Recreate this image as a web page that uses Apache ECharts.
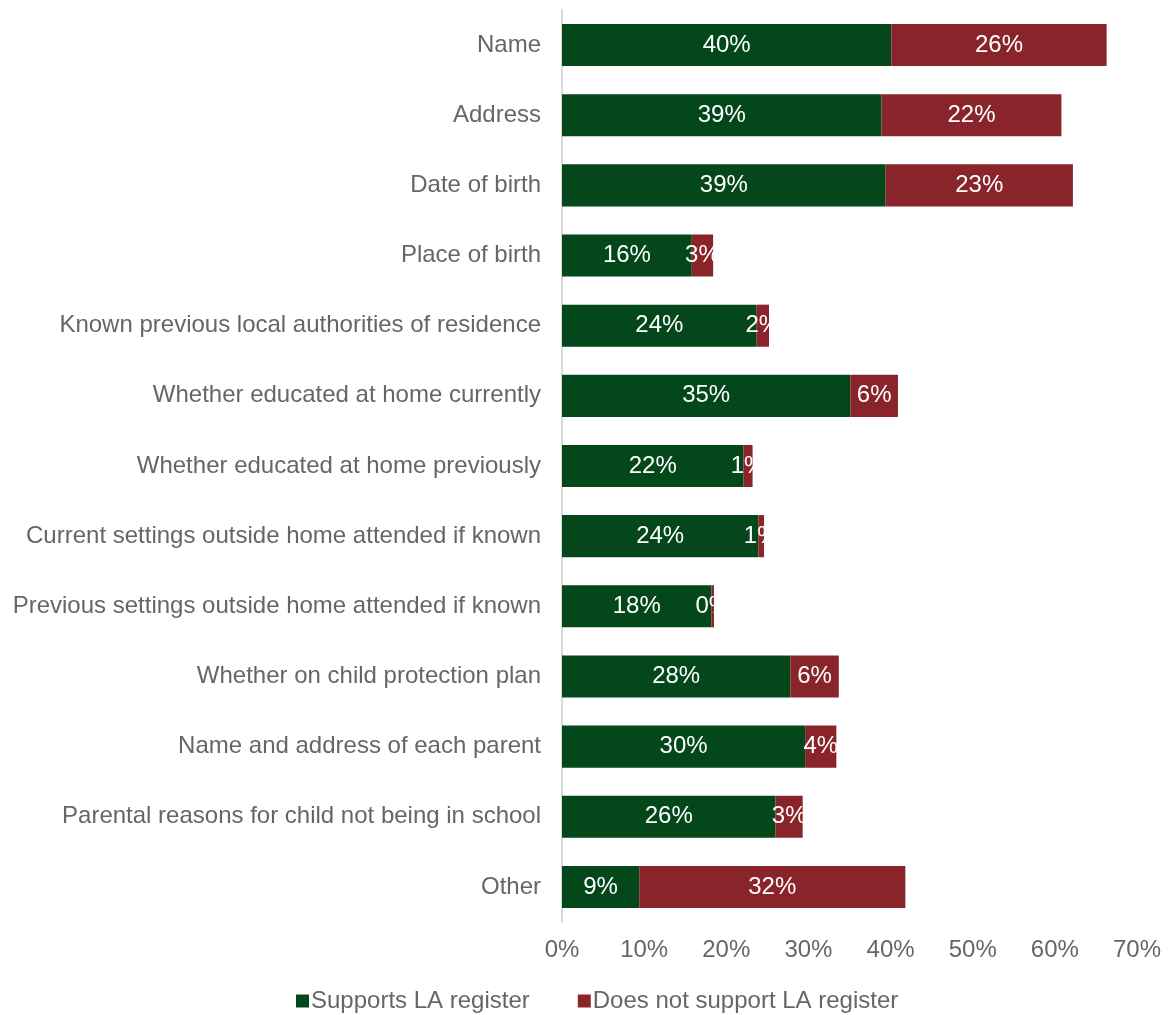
<!DOCTYPE html>
<html>
<head>
<meta charset="utf-8">
<script src="https://cdn.jsdelivr.net/npm/echarts@6/dist/echarts.min.js"></script>
<style>
  html, body { margin: 0; padding: 0; background: #fff; }
  #chart { width: 1170px; height: 1015px; }
</style>
</head>
<body>
<div id="chart"></div>
<script>
// Information items on the LA register
const categories = [
  'Name',
  'Address',
  'Date of birth',
  'Place of birth',
  'Known previous local authorities of residence',
  'Whether educated at home currently',
  'Whether educated at home previously',
  'Current settings outside home attended if known',
  'Previous settings outside home attended if known',
  'Whether on child protection plan',
  'Name and address of each parent',
  'Parental reasons for child not being in school',
  'Other'
];

// Share of respondents (%)
const supports = [40.1, 38.9, 39.4, 15.8, 23.7, 35.1, 22.1, 23.9, 18.2, 27.8, 29.6, 26.0, 9.4];
const notSupports = [26.2, 21.9, 22.8, 2.6, 1.5, 5.8, 1.1, 0.7, 0.3, 5.9, 3.8, 3.3, 32.4];

const xTicks = [0, 10, 20, 30, 40, 50, 60, 70];

const seriesNames = ['Supports LA register', 'Does not support LA register'];
const colors = ['#03471A', '#89252A'];

const FONT = '"Liberation Sans", Arial, sans-serif';
const GREY = '#666666';

const chart = echarts.init(document.getElementById('chart'), null, { renderer: 'canvas' });

const pctLabel = {
  show: true,
  position: 'inside',
  color: '#fff',
  fontFamily: FONT,
  fontSize: 24,
  formatter: p => Math.round(p.value) + '%'
};

chart.setOption({
  animation: false,
  color: colors,
  grid: { left: 562, right: 33, top: 10, bottom: 93, containLabel: false },
  legend: {
    top: 989,
    left: 296,
    padding: 0,
    itemWidth: 13,
    itemHeight: 13,
    itemGap: 48,
    icon: 'rect',
    textStyle: { color: GREY, fontFamily: FONT, fontSize: 24, padding: [0, 0, 0, -3] },
    data: seriesNames
  },
  xAxis: {
    type: 'value',
    min: xTicks[0],
    max: xTicks[xTicks.length - 1],
    interval: 10,
    axisLine: { show: false },
    axisTick: { show: false },
    splitLine: { show: false },
    axisLabel: {
      color: GREY,
      fontFamily: FONT,
      fontSize: 24,
      margin: 16,
      formatter: v => v + '%'
    }
  },
  yAxis: {
    type: 'category',
    inverse: true,
    data: categories,
    axisLine: { show: true, lineStyle: { color: '#D9D9D9', width: 2 } },
    axisTick: { show: false },
    axisLabel: {
      color: GREY,
      fontFamily: FONT,
      fontSize: 24,
      margin: 21
    }
  },
  series: [
    {
      name: seriesNames[0],
      type: 'bar',
      stack: 'total',
      barWidth: '60%',
      data: supports,
      label: pctLabel
    },
    {
      name: seriesNames[1],
      type: 'bar',
      stack: 'total',
      barWidth: '60%',
      data: notSupports,
      label: pctLabel
    }
  ]
});
</script>
</body>
</html>
